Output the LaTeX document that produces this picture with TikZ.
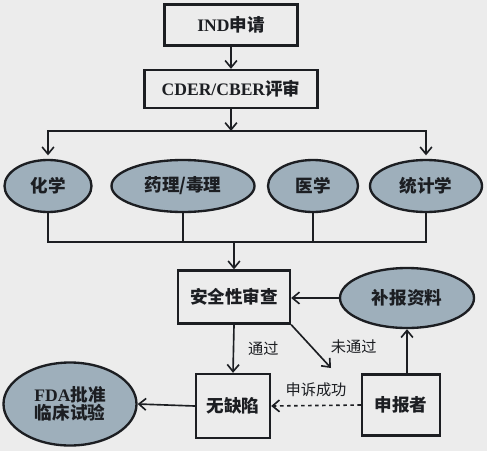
\documentclass[tikz,border=0pt]{standalone}
\usepackage{fontspec}
\setmainfont{Liberation Serif}
\newfontfamily\cjk{Noto Sans CJK SC}
\usepackage{xcolor}
\usetikzlibrary{arrows.meta, positioning, shapes.geometric}
\definecolor{papercol}{RGB}{236,236,236}
\definecolor{ellcol}{RGB}{158,175,187}
\definecolor{inkcol}{RGB}{28,30,34}

\begin{document}
\begin{tikzpicture}[x=0.03cm, y=-0.03cm, font=\fontsize{15}{17}\selectfont\bfseries,
    line width=1.4pt, draw=inkcol, text=inkcol,
    arr/.style={-{Straight Barb[length=6pt, width=10pt]}, line width=1.4pt},
    box/.style={draw, fill=papercol, line width=2pt, inner sep=0pt, align=center},
    oval/.style={draw, ellipse, fill=ellcol, line width=2pt, inner sep=0pt, align=center},
    lbl/.style={font=\fontsize{13}{15}\selectfont\cjk}]

  \fill[papercol] (0,0) rectangle (487,451);
  \useasboundingbox (0,0) rectangle (487,451);

  %% ─── Application and review ───────────────────────────────────────────────
  \node[box, minimum width=3.99cm, minimum height=1.23cm] (ind) at (231, 25)
    {IND{\cjk 申请}};
  \node[box, minimum width=5.19cm, minimum height=1.14cm] (cder) at (231, 89)
    {CDER/CBER{\cjk 评审}};
  \draw[arr] (ind.south) -- (cder.north);

  %% ─── Review disciplines ───────────────────────────────────────────────────
  \foreach \n/\xp/\w/\txt in {chem/48/2.61/{化学}, pharm/183/4.29/{药理/毒理},
                              med/313/2.70/{医学}, stat/426/3.36/{统计学}} {
    \node[oval, minimum width=\w cm, minimum height=1.56cm] (\n) at (\xp, 186)
      {\cjk \txt};
  }

  \coordinate (busT) at (231, 131);
  \coordinate (busB) at (234, 242);
  \draw[arr] (cder.south) -- (busT);
  \draw[arr, shorten >=3pt] (busT) -| (chem.north);
  \draw[arr, shorten >=3pt] (busT) -| (stat.north);
  \draw (chem.south) |- (busB);
  \draw (stat.south) |- (busB);
  \foreach \n in {pharm, med}
    \draw (\n.south) -- (\n.south |- busB);

  %% ─── Safety review ────────────────────────────────────────────────────────
  \node[box, minimum width=3.36cm, minimum height=1.59cm] (safety) at (234, 297)
    {\cjk 安全性审查};
  \node[oval, minimum width=4.02cm, minimum height=1.80cm] (supp) at (407, 298)
    {\cjk 补报资料};
  \node[box, minimum width=2.34cm, minimum height=1.83cm] (sponsor) at (401, 405)
    {\cjk 申报者};
  \node[box, minimum width=2.22cm, minimum height=1.92cm] (nodef) at (233, 406)
    {\cjk 无缺陷};
  \node[oval, minimum width=3.99cm, minimum height=2.49cm] (fda) at (70, 404)
    {FDA{\cjk 批准}\\[-2pt]{\cjk 临床试验}};

  \coordinate (fail) at (331, 368);

  \draw[arr] (busB) -- (safety.north);
  \draw[arr] (supp.west) -- (supp.west -| safety.east);
  \draw[arr] (supp.south |- sponsor.north) -- (supp.south);
  \draw[arr] (safety.south) -- (nodef.north)
    node[midway, right=0.3cm, lbl] (pass) {通过};
  \draw[arr] (safety.south east) -- (fail)
    node[midway, right=0.45cm, lbl] (nopass) {未通过};
  \draw[arr, dashed] (sponsor.west) -- (nodef.east)
    node[midway, above=3pt, lbl] (appeal) {申诉成功};
  \draw[arr] (nodef.west) -- (fda.east);
\end{tikzpicture}
\end{document}
